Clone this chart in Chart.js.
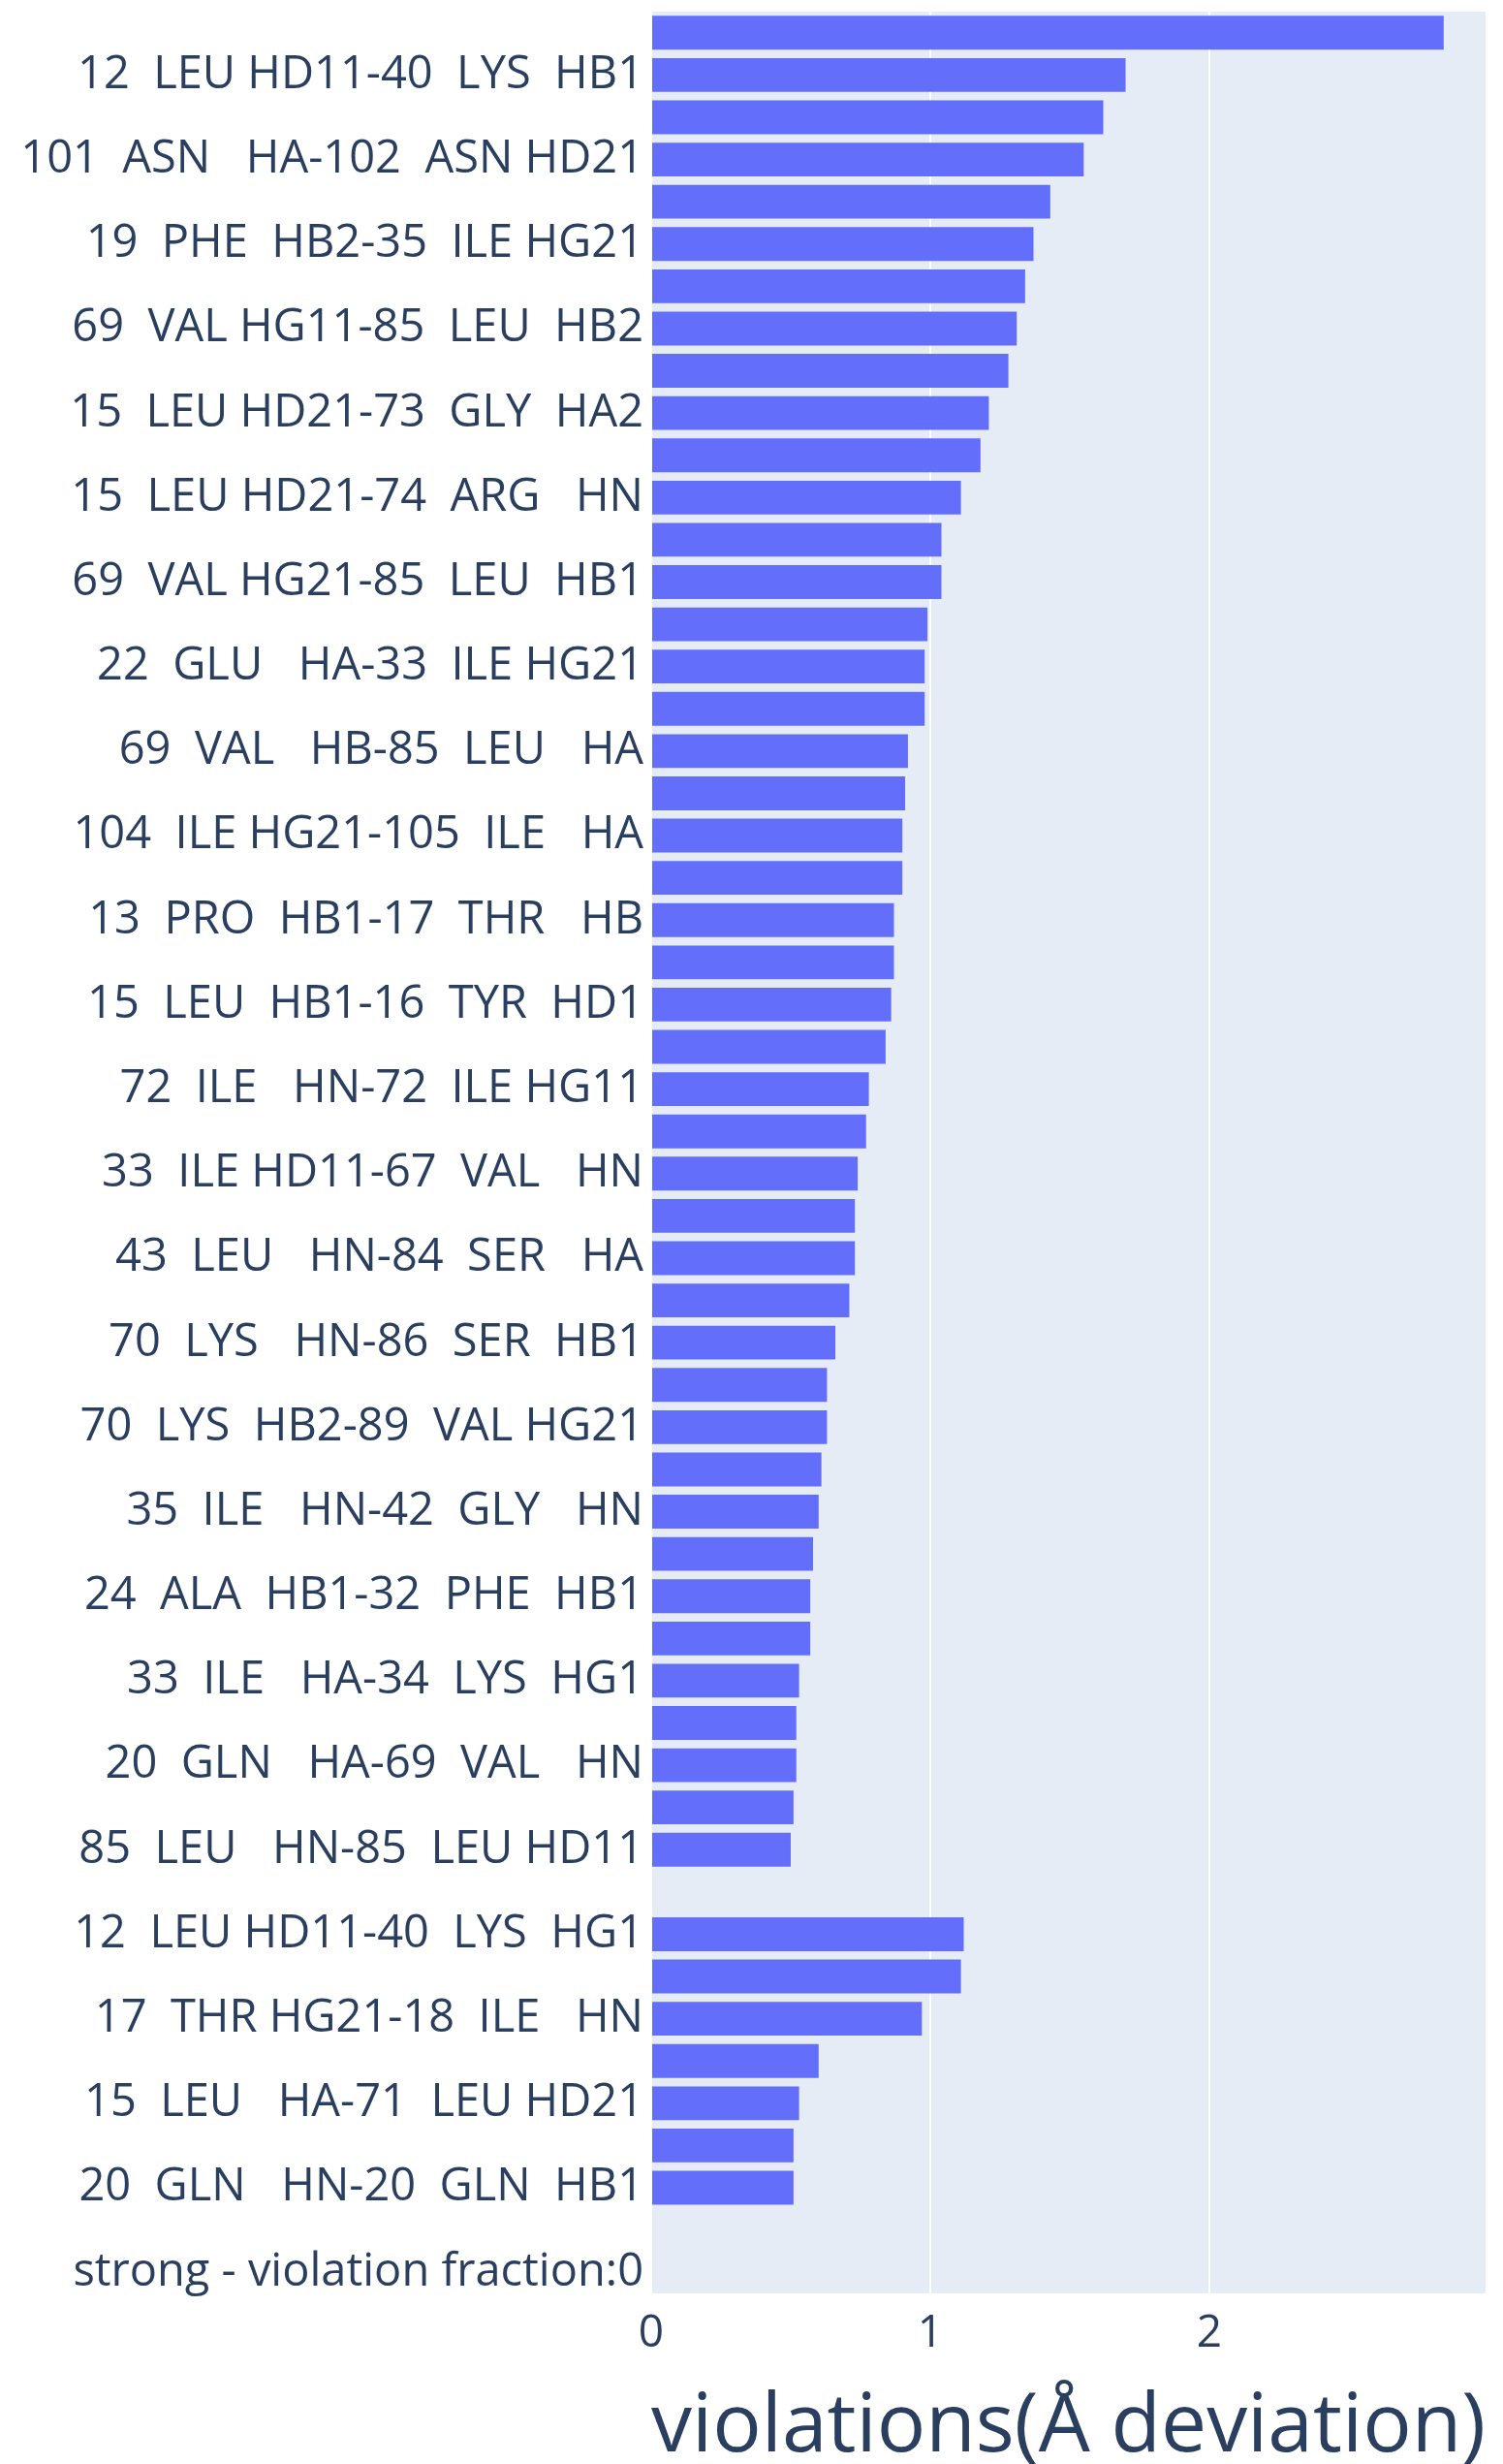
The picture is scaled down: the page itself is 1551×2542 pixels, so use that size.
<!DOCTYPE html>
<html>
<head>
<meta charset="utf-8">
<script src="https://cdn.jsdelivr.net/npm/chart.js@4"></script>
<style>
  html, body { margin: 0; padding: 0; background: #fff; }
  #wrap { width: 1551px; height: 2542px; }
</style>
</head>
<body>
<div id="wrap"><canvas id="violacoes" width="1551" height="2542"></canvas></div>
<script>
// categorias de cima pra baixo ('' = rotulo que o grafico nao mostra)
let restricoes = [
  '', '12  LEU HD11-40  LYS  HB1',
  '', '101  ASN   HA-102  ASN HD21',
  '', '19  PHE  HB2-35  ILE HG21',
  '', '69  VAL HG11-85  LEU  HB2',
  '', '15  LEU HD21-73  GLY  HA2',
  '', '15  LEU HD21-74  ARG   HN',
  '', '69  VAL HG21-85  LEU  HB1',
  '', '22  GLU   HA-33  ILE HG21',
  '', '69  VAL   HB-85  LEU   HA',
  '', '104  ILE HG21-105  ILE   HA',
  '', '13  PRO  HB1-17  THR   HB',
  '', '15  LEU  HB1-16  TYR  HD1',
  '', '72  ILE   HN-72  ILE HG11',
  '', '33  ILE HD11-67  VAL   HN',
  '', '43  LEU   HN-84  SER   HA',
  '', '70  LYS   HN-86  SER  HB1',
  '', '70  LYS  HB2-89  VAL HG21',
  '', '35  ILE   HN-42  GLY   HN',
  '', '24  ALA  HB1-32  PHE  HB1',
  '', '33  ILE   HA-34  LYS  HG1',
  '', '20  GLN   HA-69  VAL   HN',
  '', '85  LEU   HN-85  LEU HD11',
  '', '12  LEU HD11-40  LYS  HG1',
  '', '17  THR HG21-18  ILE   HN',
  '', '15  LEU   HA-71  LEU HD21',
  '', '20  GLN   HN-20  GLN  HB1',
  '', 'strong - violation fraction:0'
]

// desvio em angstrom, mesma ordem
let desvios = [
  2.84, 1.70, 1.62, 1.55, 1.43, 1.37, 1.34, 1.31, 1.28, 1.21,
  1.18, 1.11, 1.04, 1.04, 0.99, 0.98, 0.98, 0.92, 0.91, 0.90,
  0.90, 0.87, 0.87, 0.86, 0.84, 0.78, 0.77, 0.74, 0.73, 0.73,
  0.71, 0.66, 0.63, 0.63, 0.61, 0.60, 0.58, 0.57, 0.57, 0.53,
  0.52, 0.52, 0.51, 0.50, 0,
  1.12, 1.11, 0.97, 0.60, 0.53, 0.51, 0.51, 0,
  0
]

let ticksX = [0, 1, 2]
const tituloX = 'violations(Å deviation)'

const corTexto = '#2a3f5f'

// fundo azulado da area do grafico
const fundoPlot = {
  id: 'fundoPlot',
  beforeDraw(chart) {
    const {ctx, chartArea} = chart
    ctx.save()
    ctx.fillStyle = '#e5ecf6'
    ctx.fillRect(chartArea.left, chartArea.top, chartArea.right - chartArea.left, chartArea.bottom - chartArea.top)
    ctx.restore()
  }
}

const ctx = document.getElementById('violacoes')
let grafico = new Chart(ctx, {
  type: 'bar',
  data: {
    labels: restricoes,
    datasets: [{
      data: desvios,
      backgroundColor: '#636efa',
      borderWidth: 0,
      barPercentage: 0.8,
      categoryPercentage: 1.0
    }]
  },
  plugins: [fundoPlot],
  options: {
    indexAxis: 'y',
    responsive: false,
    animation: false,
    devicePixelRatio: 1,
    layout: { padding: { top: 12, right: 18, left: 0, bottom: 0 } },
    plugins: {
      legend: { display: false },
      tooltip: { enabled: false }
    },
    scales: {
      x: {
        type: 'linear',
        min: 0,
        max: 2.99,
        afterBuildTicks: s => { s.ticks = ticksX.map(v => ({ value: v })) },
        afterFit: s => { s.height = 176; s.paddingLeft = 0; s.paddingRight = 0 },
        border: { display: false },
        grid: { color: '#ffffff', lineWidth: 2, drawTicks: false },
        ticks: {
          padding: 14,
          color: corTexto,
          font: { family: 'Open Sans', size: 46 }
        },
        title: {
          display: true,
          text: tituloX,
          color: corTexto,
          font: { family: 'Open Sans', size: 85, lineHeight: 1.0 },
          padding: { top: 0, bottom: -5 }
        }
      },
      y: {
        afterFit: s => { s.width = 672; s.paddingTop = 0; s.paddingBottom = 0 },
        border: { display: false },
        grid: { display: false, drawTicks: false },
        ticks: {
          autoSkip: false,
          padding: 8,
          color: corTexto,
          font: { family: 'Open Sans', size: 47 }
        }
      }
    }
  }
})
</script>
</body>
</html>
